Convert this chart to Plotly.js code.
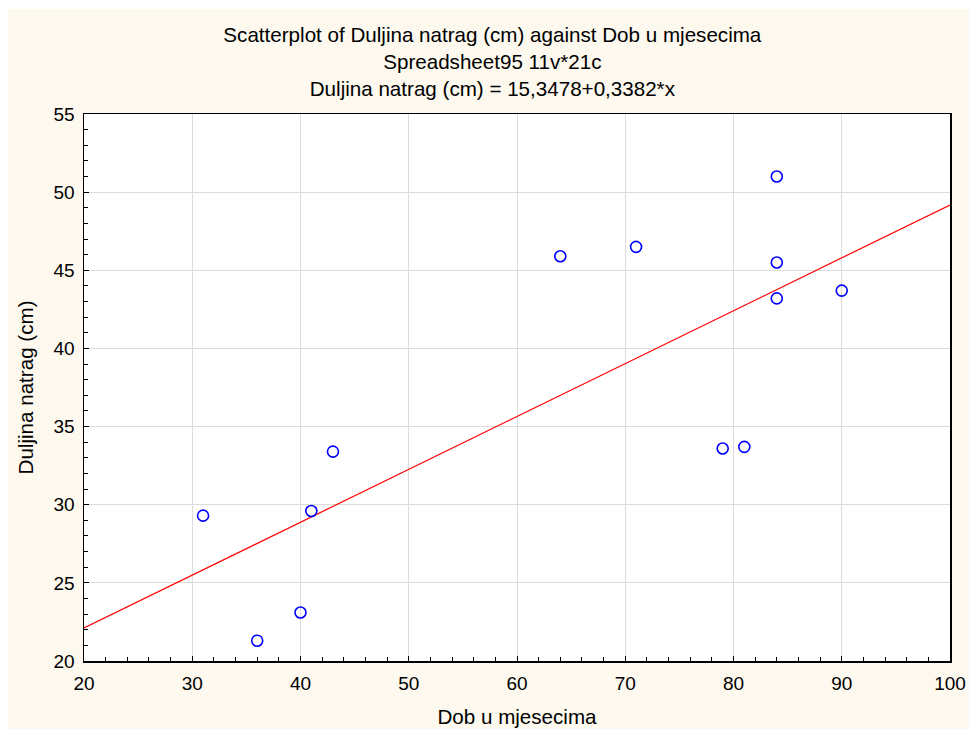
<!DOCTYPE html>
<html>
<head>
<meta charset="utf-8">
<script src="https://cdn.plot.ly/plotly-3.0.1.min.js"></script>
<style>
html,body{margin:0;padding:0;background:#ffffff;}
#chart{position:absolute;left:8px;top:9px;width:961px;height:720px;}
</style>
</head>
<body>
<div id="chart"></div>
<script>
// Data
const dobMjeseci = [31, 36, 40, 41, 43, 64, 71, 79, 81, 84, 84, 84, 90];
const duljinaNatrag = [29.3, 21.3, 23.1, 29.6, 33.4, 45.9, 46.5, 33.6, 33.7, 51.0, 45.5, 43.2, 43.7];
// Regression line endpoints (as drawn): y = 15,3478 + 0,3382*x
const fitX = [20, 100];
const fitY = [22.11, 49.18];

const titleLines = [
  "Scatterplot of Duljina natrag (cm) against Dob u mjesecima",
  "Spreadsheet95 11v*21c",
  "Duljina natrag (cm) = 15,3478+0,3382*x"
];
const xTitle = "Dob u mjesecima";
const yTitle = "Duljina natrag (cm)";

const font = "Liberation Sans, Arial, sans-serif";

const traces = [
  {
    x: fitX, y: fitY, mode: "lines", type: "scatter",
    line: {color: "#ff0000", width: 1.2},
    hoverinfo: "skip", showlegend: false
  },
  {
    x: dobMjeseci, y: duljinaNatrag, mode: "markers", type: "scatter",
    marker: {symbol: "circle-open", size: 11, color: "#0000ff", line: {width: 1.6, color: "#0000ff"}},
    showlegend: false
  }
];

const axisCommon = {
  showline: true, linecolor: "#000000", linewidth: 1.5, mirror: true,
  ticks: "inside", ticklen: 5, tickcolor: "#000000", tickwidth: 1,
  showgrid: true, gridcolor: "#dcdcdc", gridwidth: 1,
  zeroline: false,
  tickfont: {family: font, size: 19, color: "#000000"},
  minor: {ticks: "inside", ticklen: 4, tickcolor: "#000000", tickwidth: 1, showgrid: false}
};

const layout = {
  width: 961, height: 720,
  paper_bgcolor: "#fdf9ef",
  plot_bgcolor: "#ffffff",
  margin: {l: 76, r: 19, t: 105, b: 68},
  font: {family: font, size: 19, color: "#000000"},
  title: {
    text: titleLines.join("<br>"),
    font: {family: font, size: 20.6, color: "#000000"},
    x: 0.504, xanchor: "center", xref: "container",
    y: 0.954, yanchor: "top", yref: "container"
  },
  xaxis: Object.assign({}, axisCommon, {
    range: [20, 100], dtick: 10, tick0: 20,
    ticklabelstandoff: 5,
    minor: Object.assign({}, axisCommon.minor, {dtick: 2}),
    title: {text: xTitle, font: {family: font, size: 20.6}, standoff: 16}
  }),
  yaxis: Object.assign({}, axisCommon, {
    range: [20, 55], dtick: 5, tick0: 20,
    ticklabelstandoff: 4,
    minor: Object.assign({}, axisCommon.minor, {dtick: 1}),
    title: {text: yTitle, font: {family: font, size: 20.6}, standoff: 14}
  })
};

Plotly.newPlot("chart", traces, layout, {displayModeBar: false, staticPlot: true});
</script>
</body>
</html>
